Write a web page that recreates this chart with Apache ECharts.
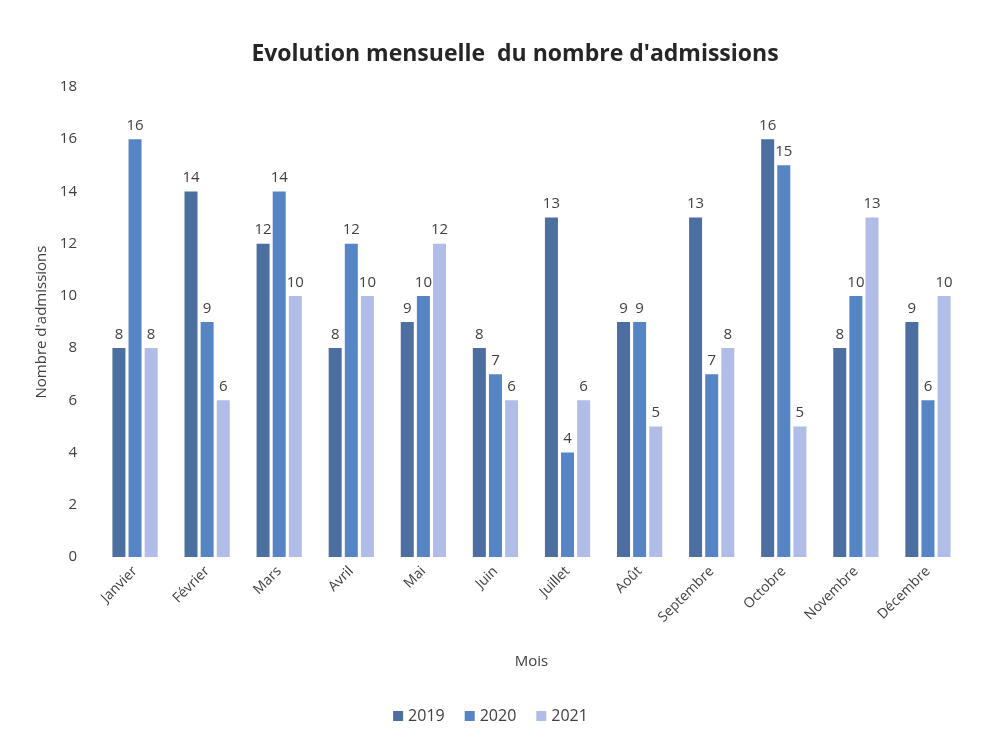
<!DOCTYPE html>
<html>
<head>
<meta charset="utf-8">
<script src="https://cdn.jsdelivr.net/npm/echarts@6/dist/echarts.min.js"></script>
<style>
  html, body { margin: 0; padding: 0; background: #fff; }
  #chart { width: 981px; height: 737px; }
</style>
</head>
<body>
<div id="chart"></div>
<script>
const months = ['Janvier', 'Février', 'Mars', 'Avril', 'Mai', 'Juin', 'Juillet', 'Août', 'Septembre', 'Octobre', 'Novembre', 'Décembre'];
const y2019 = [8, 14, 12, 8, 9, 8, 13, 9, 13, 16, 8, 9];
const y2020 = [16, 9, 14, 12, 10, 7, 4, 9, 7, 15, 10, 6];
const y2021 = [8, 6, 10, 10, 12, 6, 6, 5, 8, 5, 13, 10];

const font = 'Open Sans';
const chart = echarts.init(document.getElementById('chart'));

function bar(name, data, color) {
  return {
    name: name,
    type: 'bar',
    data: data,
    barWidth: 13,
    barGap: '24%',
    itemStyle: { color: color },
    label: {
      show: true,
      position: 'top',
      distance: 6,
      color: '#404040',
      fontFamily: font,
      fontSize: 15,
    },
  };
}

chart.setOption({
  animation: false,
  title: {
    text: "Evolution mensuelle  du nombre d'admissions",
    left: 510,
    top: 38,
    textAlign: 'center',
    textStyle: { fontFamily: font, fontWeight: 'bold', fontSize: 23, color: '#262626' },
  },
  legend: {
    bottom: 8,
    left: 'center',
    itemWidth: 10,
    itemHeight: 10,
    itemGap: 20,
    icon: 'rect',
    textStyle: { fontFamily: font, fontSize: 16, color: '#404040' },
    data: ['2019', '2020', '2021'],
  },
  grid: { left: 99, right: 17, top: 87, bottom: 180 },
  xAxis: {
    type: 'category',
    data: months,
    name: 'Mois',
    nameLocation: 'middle',
    nameGap: 97,
    nameTextStyle: { fontFamily: font, fontSize: 15, color: '#404040' },
    axisLine: { show: false },
    axisTick: { show: false },
    axisLabel: { rotate: 45, fontFamily: font, fontSize: 14, color: '#404040', margin: 12 },
  },
  yAxis: {
    type: 'value',
    min: 0,
    max: 18,
    interval: 2,
    name: "Nombre d'admissions",
    nameLocation: 'middle',
    nameGap: 48,
    nameTextStyle: { fontFamily: font, fontSize: 15, color: '#404040' },
    splitLine: { show: false },
    axisLine: { show: false },
    axisTick: { show: false },
    axisLabel: { fontFamily: font, fontSize: 15, color: '#404040', margin: 22 },
  },
  series: [
    bar('2019', y2019, '#4a6fa0'),
    bar('2020', y2020, '#5585c5'),
    bar('2021', y2021, '#b0bde8'),
  ],
});
</script>
</body>
</html>
